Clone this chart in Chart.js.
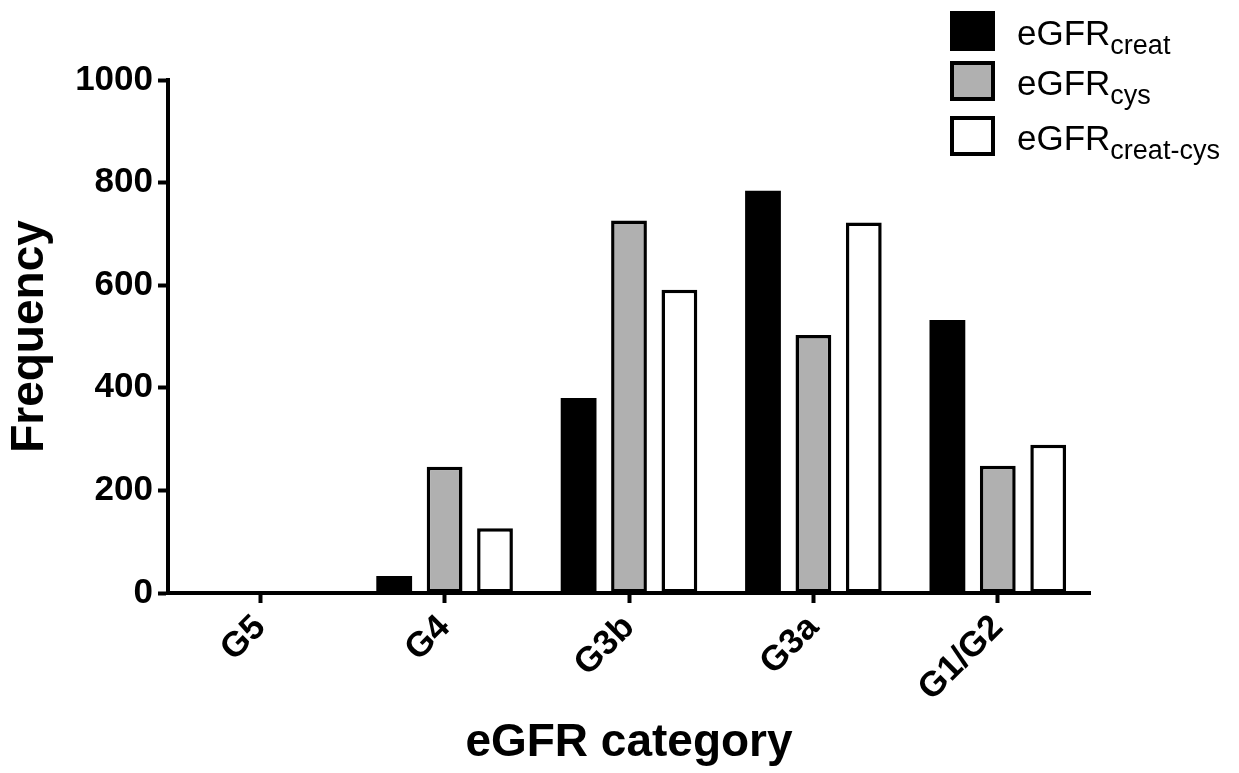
<!DOCTYPE html>
<html>
<head>
<meta charset="utf-8">
<script src="https://cdn.jsdelivr.net/npm/chart.js@4/dist/chart.umd.min.js"></script>
<style>
  html, body { margin: 0; padding: 0; background: #fff; }
  #wrap { position: relative; width: 1239px; height: 773px; }
  #legend { position: absolute; left: 950px; top: 0; font-family: "Liberation Sans", Arial, sans-serif; color: #000; }
  .row { position: absolute; left: 0; width: 290px; height: 46px; }
  .box { position: absolute; left: 0; width: 45px; height: 40px; box-sizing: border-box; }
  .lbl { position: absolute; left: 67px; font-size: 35px; line-height: 1; white-space: nowrap; }
  .lbl sub { font-size: 27px; vertical-align: -9px; line-height: 0; }
</style>
</head>
<body>
<div id="wrap">
  <canvas id="c" width="1239" height="773"></canvas>
  <div id="legend"></div>
</div>
<script>
const categories = ["G5", "G4", "G3b", "G3a", "G1/G2"];
const seriesNames = ["eGFR<sub>creat</sub>", "eGFR<sub>cys</sub>", "eGFR<sub>creat-cys</sub>"];
const seriesLabels = ["eGFRcreat", "eGFRcys", "eGFRcreat-cys"];
const creatValues = [0, 33, 380, 784, 532];
const cysValues = [3, 246, 726, 503, 248];
const creatCysValues = [0, 126, 591, 722, 289];
const yTicks = [0, 200, 400, 600, 800, 1000];

const fills = ["#000000", "#b0b0b0", "#ffffff"];
const allValues = [creatValues, cysValues, creatCysValues];

const datasets = allValues.map((vals, i) => ({
  label: seriesLabels[i],
  data: vals,
  backgroundColor: fills[i],
  borderColor: "#000000",
  borderWidth: i === 0 ? 0 : 3.5,
  borderSkipped: false,
  categoryPercentage: 0.82,
  barPercentage: 0.71
}));

const FONT = "'Liberation Sans', Arial, sans-serif";

new Chart(document.getElementById("c"), {
  type: "bar",
  data: { labels: categories, datasets },
  options: {
    responsive: false,
    animation: false,
    events: [],
    layout: { padding: { top: 80, right: 149, left: 0, bottom: 0 } },
    plugins: { legend: { display: false }, tooltip: { enabled: false } },
    scales: {
      x: {
        offset: true,
        afterFit: s => { s.height = 180; },
        border: { display: true, color: "#000", width: 4 },
        grid: { offset: false, drawOnChartArea: false, drawTicks: true, tickLength: 10, tickWidth: 4, tickColor: "#000", color: "#000" },
        ticks: { autoSkip: false, maxRotation: 45, minRotation: 45, color: "#000", padding: 4,
                 font: { family: FONT, size: 35, weight: "bold" } },
        title: { display: true, text: "eGFR category", color: "#000", padding: { top: 0, bottom: 2 },
                 font: { family: FONT, size: 46, weight: "bold" } }
      },
      y: {
        min: 0, max: 1000,
        afterFit: s => { s.width = 168; },
        afterBuildTicks: s => { s.ticks = yTicks.map(v => ({ value: v })); },
        border: { display: true, color: "#000", width: 4 },
        grid: { drawOnChartArea: false, drawTicks: true, tickLength: 10, tickWidth: 4, tickColor: "#000", color: "#000" },
        ticks: { color: "#000", padding: 5, callback: v => String(v),
                 font: { family: FONT, size: 35, weight: "bold" } },
        title: { display: true, text: "Frequency", color: "#000", padding: { top: 3, bottom: 0 },
                 font: { family: FONT, size: 46, weight: "bold" } }
      }
    }
  }
});

// HTML legend with subscripts
const legend = document.getElementById("legend");
const rowTops = [11, 61, 116];
seriesNames.forEach((name, i) => {
  const row = document.createElement("div");
  row.className = "row";
  row.style.top = rowTops[i] + "px";
  const box = document.createElement("div");
  box.className = "box";
  box.style.background = fills[i];
  box.style.border = "4px solid #000";
  const lbl = document.createElement("div");
  lbl.className = "lbl";
  lbl.style.top = "4px";
  lbl.innerHTML = name;
  row.appendChild(box);
  row.appendChild(lbl);
  legend.appendChild(row);
});
</script>
</body>
</html>
